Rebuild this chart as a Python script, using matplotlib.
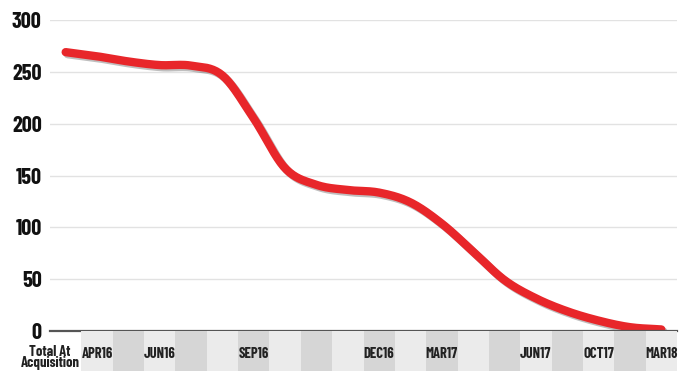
import numpy as np
import matplotlib
matplotlib.use("Agg")
import matplotlib.pyplot as plt
import matplotlib.patheffects as pe

plt.rcParams['font.family'] = ['Barlow Condensed', 'Roboto Condensed', 'Oswald', 'DejaVu Sans']

# one value per column (column 0 = total at acquisition)
values = [269, 265, 260, 256.5, 256, 246.5, 205, 157, 141, 136,
          133.5, 124, 103.5, 76.5, 49, 31.5, 19, 10, 3.7, 1.5]
tick_labels = ["", "APR16", "", "JUN16", "", "", "SEP16", "", "", "",
               "DEC16", "", "MAR17", "", "", "JUN17", "", "OCT17", "", "MAR18"]
first_label = "Total At\nAcquisition"
yticks = [0, 50, 100, 150, 200, 250, 300]

x = np.arange(len(values))
y = np.array(values, dtype=float)

# cubic hermite smoothing, only for drawing the curve
def smooth(x, y, n=20):
    xs, ys = [], []
    m = np.gradient(y, x)
    for i in range(len(x) - 1):
        t = np.linspace(0, 1, n, endpoint=False)
        h00 = 2*t**3 - 3*t**2 + 1
        h10 = t**3 - 2*t**2 + t
        h01 = -2*t**3 + 3*t**2
        h11 = t**3 - t**2
        dx = x[i+1] - x[i]
        xs.append(x[i] + t*dx)
        ys.append(h00*y[i] + h10*dx*m[i] + h01*y[i+1] + h11*dx*m[i+1])
    xs.append([x[-1]])
    ys.append([y[-1]])
    return np.concatenate(xs), np.concatenate(ys)

W, H = 679, 371
fig = plt.figure(figsize=(W/100, H/100), dpi=100)
ax = fig.add_axes([50/W, 40/H, 627/W, 311/H])
band = fig.add_axes([50/W, 0, 627/W, 40/H], sharex=ax)

sx, sy = smooth(x, y)
ax.plot(sx, sy, color="#e8262a", lw=6, solid_capstyle="round", zorder=3,
        path_effects=[pe.SimpleLineShadow(offset=(1.5, -1.5), alpha=0.25),
                      pe.Normal()])

ax.set_xlim(-0.5, len(values) - 0.5)
ax.set_ylim(0, 300)
ax.set_yticks(yticks)
ax.grid(axis="y", color="#e2e2e2", lw=1)
ax.set_axisbelow(True)
for s in ["top", "right", "left"]:
    ax.spines[s].set_visible(False)
ax.spines["bottom"].set_color("#555555")
ax.spines["bottom"].set_linewidth(1.6)
ax.spines["bottom"].set_zorder(4)
ax.tick_params(axis="y", length=0, pad=6, labelsize=16, labelcolor="#111111")
ax.tick_params(axis="x", length=0, labelbottom=False)
for lbl in ax.get_yticklabels():
    lbl.set_fontweight("bold")

for i in range(1, len(values)):
    band.axvspan(i - 0.5, i + 0.5, color="#ebebeb" if i % 2 else "#d6d6d6", lw=0)
band.set_ylim(0, 1)
band.axis("off")
for i, t in enumerate(tick_labels):
    if t:
        band.text(i, 0.42, t, ha="center", va="center", fontsize=10.5,
                  fontweight="bold", color="#222222")
band.text(-0.5, 0.34, first_label, ha="center", va="center", fontsize=10.5,
          fontweight="bold", color="#222222", linespacing=0.8)

fig.savefig("out.png", dpi=100)
